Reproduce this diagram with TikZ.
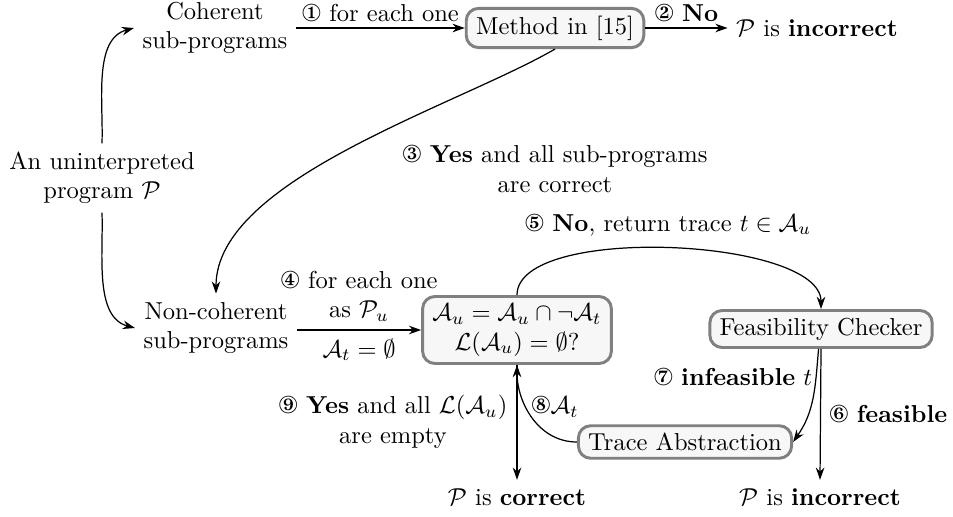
\documentclass[tikz,border=0pt]{standalone}
\usepackage{amsmath,amssymb}
\usepackage{pifont}
\usetikzlibrary{arrows.meta,positioning}
\definecolor{boxline}{HTML}{808080}
\definecolor{boxfill}{HTML}{F7F7F7}
\tikzset{
  procbox/.style={draw=boxline,line width=1.2pt,fill=boxfill,rounded corners=5pt,
                  align=center,inner xsep=4pt,inner ysep=3pt},
  plain/.style={align=center},
  flow/.style={line width=0.5pt,-{Stealth[length=5pt,width=3.5pt]}}
}
\begin{document}
\begin{tikzpicture}[x=0.01435cm,y=0.01435cm]
  \useasboundingbox (0,0) rectangle (953,-516);
  % left column
  \node[plain] (prog)   at (102,-178) {An uninterpreted\\program $\mathcal{P}$};
  \node[plain] (coh)    at (215,-28)  {Coherent\\sub-programs};
  \node[plain] (noncoh) at (216,-328) {Non-coherent\\sub-programs};
  % checkers and verdicts
  \node[procbox] (method)  at (555,-28)  {Method in [15]};
  \node[plain]   (incorrA) at (817,-28)  {$\mathcal{P}$ is \textbf{incorrect}};
  \node[procbox] (lang)    at (517,-330)
    {$\mathcal{A}_u=\mathcal{A}_u\cap\neg\mathcal{A}_t$\\$\mathcal{L}(\mathcal{A}_u)=\emptyset$?};
  \node[procbox] (feas)    at (821,-329) {Feasibility Checker};
  \node[procbox] (trace)   at (685,-442) {Trace Abstraction};
  \node[plain]   (corr)    at (517,-497) {$\mathcal{P}$ is \textbf{correct}};
  \node[plain]   (incorrB) at (820,-497) {$\mathcal{P}$ is \textbf{incorrect}};
  % labels placed apart from their connectors
  \node[plain] (lblyes)   at (555,-169) {\ding{174} \textbf{Yes} and all sub-programs\\are correct};
  \node[plain] (lblno)    at (668,-225) {\ding{176} \textbf{No}, return trace $t\in\mathcal{A}_u$};
  \node[plain] (lblinf)   at (733,-377) {\ding{178} \textbf{infeasible} $t$};
  \node[plain] (lblAt)    at (555,-407) {\ding{179}$\mathcal{A}_t$};
  \node[plain] (lblempty) at (393,-422) {\ding{180} \textbf{Yes} and all $\mathcal{L}(\mathcal{A}_u)$\\are empty};

  % connectors
  \draw[flow] (prog.north) to[out=88,in=195,looseness=0.9] (coh.west);
  \draw[flow] (prog.south) to[out=-88,in=165,looseness=0.9] (noncoh.west);
  \draw[flow] (coh) -- node[above=-1pt] {\ding{172} for each one} (method);
  \draw[flow] (method) -- node[above=-1pt] {\ding{173} \textbf{No}} (incorrA);
  \draw[flow] (method.south) to[out=-150,in=90,looseness=0.7] (noncoh.north);
  \draw[flow] (noncoh.east |- lang.west) -- node[above,align=center] {\ding{175} for each one\\as $\mathcal{P}_u$}
    node[below] {$\mathcal{A}_t=\emptyset$} (lang.west);
  \draw[flow] (lang.north) to[out=90,in=90,looseness=0.6] (feas.north);
  \draw[flow] (feas.south) -- node[right] {\ding{177} \textbf{feasible}} (incorrB.north);
  \draw[flow] ([xshift=-1pt]feas.south) to[out=-95,in=55] (trace.east);
  \draw[flow] (trace.west) to[out=180,in=-90] (lang.south);
  \draw[flow] (lang.south) -- (corr.north);
\end{tikzpicture}
\end{document}
